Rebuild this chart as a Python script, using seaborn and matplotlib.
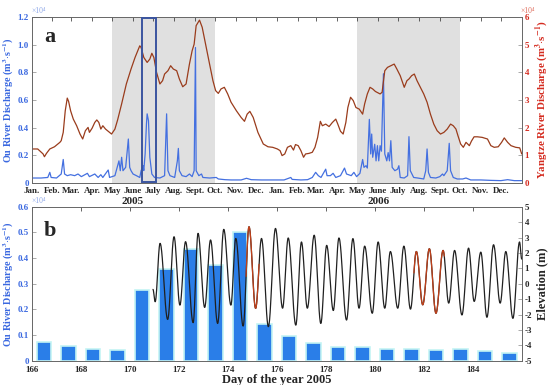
import numpy as np
import pandas as pd
import matplotlib
matplotlib.use("Agg")
import matplotlib.pyplot as plt
from matplotlib.patches import Rectangle
import seaborn as sns

# --- data (days since 2005-01-01, discharge in 1e4 m3/s) ---
yz_day = [0, 9, 17, 19, 22, 27, 34, 42, 44, 47, 50, 53, 55, 58, 62, 67, 72, 76, 80, 84,
          86, 90, 94, 97, 100, 103, 106, 110, 114, 119, 124, 128, 134, 141, 148, 154, 161,
          163, 167, 172, 176, 179, 182, 186, 191, 195, 198, 203, 207, 211, 216, 220, 225,
          230, 235, 239, 242, 245, 250, 254, 259, 265, 270, 274, 278, 282, 287, 292, 297,
          305, 312, 317, 321, 325, 330, 337, 345, 352, 359, 366, 370, 373, 377, 381, 386,
          390, 393, 397, 401, 405, 408, 413, 418, 422, 426, 430, 433, 438, 443, 448, 453,
          456, 460, 464, 468, 471, 475, 479, 483, 488, 493, 496, 500, 504, 508, 512, 519,
          522, 526, 530, 535, 540, 544, 549, 555, 559, 562, 566, 570, 574, 579, 584, 589,
          594, 599, 604, 609, 614, 619, 624, 628, 632, 635, 639, 643, 647, 652, 655, 659,
          664, 671, 679, 684, 689, 695, 700, 704, 709, 714, 721, 727, 730]
yz_val = [1.23, 1.23, 1.05, 0.95, 1.07, 1.23, 1.31, 1.47, 1.53, 1.83, 2.61, 3.07, 2.95,
          2.61, 2.31, 2.07, 1.77, 1.59, 1.89, 2.01, 1.83, 1.98, 2.19, 2.28, 2.19, 1.95, 2.07,
          1.95, 1.87, 1.77, 1.95, 2.28, 2.86, 3.58, 4.12, 4.54, 4.96, 4.90, 4.54, 4.36, 4.48,
          4.69, 4.54, 4.00, 3.58, 3.70, 3.94, 4.06, 4.24, 4.12, 4.06, 3.76, 3.48, 3.58, 4.30,
          4.78, 5.02, 5.69, 5.89, 5.63, 5.02, 4.30, 3.70, 3.34, 3.24, 3.40, 3.46, 3.22, 2.92,
          2.61, 2.37, 2.23, 2.49, 2.59, 2.37, 1.83, 1.41, 1.31, 1.29, 1.23, 1.17, 0.99, 1.05,
          1.29, 1.35, 1.19, 1.39, 1.35, 1.17, 0.93, 1.05, 1.07, 1.11, 1.29, 1.65, 2.23, 2.07,
          2.13, 2.04, 2.19, 2.31, 2.13, 1.87, 1.77, 2.19, 2.73, 3.10, 2.98, 2.73, 2.67, 2.49,
          2.86, 3.22, 3.46, 3.40, 3.31, 3.22, 3.28, 4.06, 4.18, 4.24, 4.30, 4.12, 3.88, 3.46,
          3.70, 3.76, 3.88, 3.94, 3.70, 3.46, 3.22, 2.92, 2.49, 2.13, 1.89, 1.77, 1.83, 1.95,
          2.13, 2.07, 1.95, 1.71, 1.41, 1.29, 1.47, 1.35, 1.51, 1.67, 1.67, 1.65, 1.59, 1.35,
          1.29, 1.31, 1.47, 1.63, 1.47, 1.35, 1.29, 1.27, 1.05]

ou_day = [0, 14, 24, 27, 29, 37, 44, 47, 49, 53, 58, 64, 69, 74, 83, 86, 94, 99, 103, 106,
          114, 116, 124, 130, 132, 134, 136, 140, 144, 146, 148, 151, 156, 161, 163, 166, 167,
          169, 171, 172, 174, 176, 179, 183, 191, 198, 201, 203, 206, 213, 217, 218.5, 220,
          224, 230, 235, 239, 242, 244, 245, 249, 253, 255, 265, 275, 278, 288, 297, 312, 320,
          327, 342, 362, 376, 386, 388, 401, 411, 418, 423, 427, 431, 438, 440, 445, 449, 453,
          460, 466, 469, 476, 480, 484, 489, 493, 495, 498, 500, 503, 505, 506.5, 508, 511,
          513, 515, 517, 519, 521, 524, 526, 529, 531, 533, 535, 537, 541, 545, 547, 549, 555,
          560, 562, 564, 569, 575, 584, 587, 589, 591, 594, 602, 608, 612, 614, 619, 622, 624,
          628, 634, 642, 647, 654, 669, 684, 699, 709, 719, 730]
ou_val = [0.036, 0.036, 0.040, 0.077, 0.040, 0.036, 0.065, 0.170, 0.065, 0.053, 0.060,
          0.053, 0.065, 0.046, 0.070, 0.046, 0.065, 0.040, 0.060, 0.040, 0.094, 0.040, 0.053,
          0.160, 0.089, 0.186, 0.089, 0.113, 0.318, 0.113, 0.089, 0.065, 0.053, 0.040, 0.089,
          0.125, 0.090, 0.210, 0.430, 0.500, 0.450, 0.186, 0.065, 0.040, 0.036, 0.053, 0.500,
          0.089, 0.053, 0.040, 0.160, 0.250, 0.089, 0.053, 0.046, 0.065, 0.046, 0.089, 0.980,
          0.089, 0.053, 0.065, 0.040, 0.036, 0.040, 0.029, 0.024, 0.022, 0.022, 0.034, 0.024,
          0.022, 0.022, 0.022, 0.040, 0.026, 0.022, 0.024, 0.040, 0.077, 0.053, 0.040, 0.100,
          0.053, 0.053, 0.070, 0.040, 0.053, 0.108, 0.065, 0.053, 0.077, 0.046, 0.070, 0.170,
          0.113, 0.125, 0.108, 0.460, 0.210, 0.354, 0.186, 0.280, 0.160, 0.270, 0.160, 0.270,
          0.230, 0.790, 0.210, 0.160, 0.220, 0.160, 0.306, 0.113, 0.089, 0.100, 0.125, 0.040,
          0.036, 0.053, 0.335, 0.089, 0.040, 0.036, 0.029, 0.089, 0.246, 0.077, 0.040, 0.036,
          0.046, 0.065, 0.053, 0.089, 0.287, 0.089, 0.040, 0.029, 0.029, 0.036, 0.022, 0.022,
          0.019, 0.017, 0.024, 0.017, 0.017]

month_labels = ["Jan.", "Feb.", "Mar.", "Apr.", "May", "June", "July", "Aug.", "Sept.",
                "Oct.", "Nov.", "Dec."] * 2
flood_seasons = [("2005-05-01", "2005-10-01"), ("2006-05-01", "2006-10-01")]
zoom_window = (165, 185)  # days since Jan 1 (DOY 166-186)

# panel b: daily Ou discharge (1e4 m3/s) and tidal extrema (m)
bar_doy = [166.5, 167.5, 168.5, 169.5, 170.5, 171.5, 172.5, 173.5, 174.5, 175.5,
           176.5, 177.5, 178.5, 179.5, 180.5, 181.5, 182.5, 183.5, 184.5, 185.5]
bar_q = [0.074, 0.057, 0.047, 0.040, 0.275, 0.356, 0.436, 0.374, 0.501, 0.143,
         0.096, 0.068, 0.055, 0.052, 0.047, 0.044, 0.043, 0.044, 0.038, 0.031]

tide_t = [170.95, 171.04, 171.24, 171.55, 171.81, 172.05, 172.28, 172.59, 172.79, 173.06,
          173.30, 173.59, 173.84, 174.13, 174.33, 174.63, 174.87, 175.14, 175.38, 175.66,
          175.95, 176.24, 176.47, 176.78, 177.01, 177.25, 177.53, 177.80, 178.04, 178.31,
          178.54, 178.85, 179.11, 179.36, 179.59, 179.90, 180.14, 180.41, 180.64, 180.94,
          181.19, 181.46, 181.70, 181.96, 182.23, 182.50, 182.79, 183.02, 183.26, 183.56,
          183.83, 184.06, 184.33, 184.58, 184.85, 185.12, 185.35, 185.64, 185.91, 186.0]
tide_h = [-0.37, -1.17, 2.62, -2.32, 3.05, -1.39, 2.73, -2.53, 3.27, -1.54,
          2.84, -2.58, 3.53, -1.39, 2.94, -2.75, 3.70, -1.60, 2.94, -2.79,
          3.59, -1.59, 2.97, -2.69, 2.71, -1.59, 3.15, -2.58, 2.49, -1.74,
          2.97, -2.36, 2.93, -1.59, 2.44, -1.92, 2.71, -1.59, 2.09, -1.59,
          2.44, -1.65, 2.09, -1.37, 2.27, -1.92, 2.16, -1.26, 2.16, -2.03,
          2.31, -1.15, 2.05, -2.18, 2.53, -1.26, 2.09, -2.25, 2.71, 1.60]
red_spans = [(174.75, 175.28), (181.60, 182.84)]

# colours
BLUE_TXT = "#3a68e0"
BLUE_LINE = "#4470e0"
RED_TXT = "#d42a1e"
YZ_LINE = "#9a3c1c"
BAR_C = "#2a7ee8"

UNIT = r" (m$^{\mathbf{3}}$$\cdot$s$^{\mathbf{-1}}$)"


def tide_curve(t_ext, h_ext, n=24):
    # smooth half-cosine between successive high/low waters
    ts, hs = [], []
    for i in range(len(t_ext) - 1):
        s = np.linspace(0, 1, n, endpoint=False)
        ts.append(t_ext[i] + (t_ext[i + 1] - t_ext[i]) * s)
        hs.append(h_ext[i] + (h_ext[i + 1] - h_ext[i]) * (1 - np.cos(np.pi * s)) / 2)
    ts.append([t_ext[-1]])
    hs.append([h_ext[-1]])
    return np.concatenate(ts), np.concatenate(hs)


sns.set_theme(style="white")
plt.rcParams['font.family'] = ['Liberation Serif', 'DejaVu Serif']
plt.rcParams['mathtext.fontset'] = 'stix'
plt.rcParams['axes.unicode_minus'] = False
plt.rcParams['axes.linewidth'] = 0.6

fig = plt.figure(figsize=(5.5, 3.85), dpi=100)
ax1 = fig.add_axes([0.0576, 0.5247, 0.891, 0.431])
ax2 = ax1.twinx()
ax3 = fig.add_axes([0.0576, 0.0631, 0.891, 0.400])
ax4 = ax3.twinx()

t0 = pd.Timestamp("2005-01-01")
month_pos = [(d - t0).days for d in pd.date_range("2005-01-01", "2006-12-01", freq="MS")]

# --- panel a ---
for a, b in flood_seasons:
    ax1.axvspan((pd.Timestamp(a) - t0).days, (pd.Timestamp(b) - t0).days,
                color="#e0e0e0", lw=0, zorder=0)
sns.lineplot(x=ou_day, y=ou_val, ax=ax1, color=BLUE_LINE, lw=0.9, zorder=3)
sns.lineplot(x=yz_day, y=yz_val, ax=ax2, color=YZ_LINE, lw=0.9)
ax2.add_patch(Rectangle((zoom_window[0], 0.02), zoom_window[1] - zoom_window[0], 5.96,
                        fill=False, ec="#3b55a0", lw=1.4, zorder=5))

ax1.set_xlim(0, 730)
ax1.set_ylim(0, 1.2)
ax2.set_ylim(0, 6)
ax1.set_xticks(month_pos)
ax1.set_xticklabels(month_labels)
ax1.set_yticks(np.arange(0, 1.21, 0.2))
ax1.set_yticklabels(["0"] + [f"{v:.1f}" for v in np.arange(0.2, 1.21, 0.2)])
ax2.set_yticks(range(0, 7))
ax1.tick_params(axis="x", direction="in", top=True, length=3, width=0.5, pad=3,
                labelsize=6.5)
ax1.tick_params(axis="y", direction="in", length=3, width=0.5, pad=2, labelsize=6.5,
                labelcolor=BLUE_TXT, color="#888888")
ax2.tick_params(axis="y", direction="in", length=3, width=0.5, pad=2, labelsize=6.5,
                labelcolor=RED_TXT, color="#888888")
for lab in ax1.get_xticklabels() + ax1.get_yticklabels() + ax2.get_yticklabels():
    lab.set_fontweight("bold")
ax1.set_xlabel("")
ax1.set_ylabel("Ou River Discharge" + UNIT, color=BLUE_TXT, fontsize=7.3,
               fontweight="bold")
ax1.yaxis.set_label_coords(-0.031, 0.5)
ax2.set_ylabel("Yangtze River Discharge" + UNIT, color=RED_TXT, fontsize=7.8,
               fontweight="bold", labelpad=3)
ax1.text(0.0, 1.01, "×10⁴", transform=ax1.transAxes, color="#8fa8e8", fontsize=5.5,
         ha="left", va="bottom")
ax2.text(0.998, 1.01, "×10⁴", transform=ax2.transAxes, color="#e07060", fontsize=5.5,
         ha="left", va="bottom")
ax1.text(0.025, 0.88, "a", transform=ax1.transAxes, fontsize=16, fontweight="bold",
         va="center")
for yr, pos in [("2005", 151), ("2006", 516)]:
    ax1.text(pos, -0.113, yr, transform=ax1.get_xaxis_transform(), ha="center",
             va="center", fontsize=8, fontweight="bold")

# --- panel b ---
sns.barplot(x=bar_doy, y=bar_q, ax=ax3, native_scale=True, width=0.6, color=BAR_C,
            saturation=1, edgecolor="#c4f4f4", linewidth=1.2, zorder=2)
tt, hh = tide_curve(tide_t, tide_h)
sns.lineplot(x=tt, y=hh, ax=ax4, color="#202020", lw=0.9, sort=False)
for a, b in red_spans:
    m = (tt >= a) & (tt <= b)
    sns.lineplot(x=tt[m], y=hh[m], ax=ax4, color="#c0401a", lw=0.9, sort=False)

ax3.set_xlim(166, 186)
ax3.set_ylim(0, 0.6)
ax4.set_ylim(-5, 5)
ax3.set_xticks(range(166, 185, 2))
ax3.set_yticks(np.arange(0, 0.61, 0.1))
ax3.set_yticklabels(["0"] + [f"{v:.1f}" for v in np.arange(0.1, 0.61, 0.1)])
ax4.set_yticks(range(-5, 6))
ax3.tick_params(axis="x", direction="in", top=True, length=3, width=0.5, pad=4,
                labelsize=6.5)
ax3.tick_params(axis="y", direction="in", length=3, width=0.5, pad=2, labelsize=6.5,
                labelcolor=BLUE_TXT, color="#888888")
ax4.tick_params(axis="y", direction="in", length=3, width=0.5, pad=2, labelsize=6.5,
                color="#888888")
for lab in ax3.get_xticklabels() + ax3.get_yticklabels() + ax4.get_yticklabels():
    lab.set_fontweight("bold")
ax3.set_xlabel("Day of the year 2005", fontsize=9, fontweight="bold", labelpad=0)
ax3.set_ylabel("Ou River Discharge" + UNIT, color=BLUE_TXT, fontsize=7.3,
               fontweight="bold")
ax3.yaxis.set_label_coords(-0.031, 0.5)
ax4.set_ylabel("Elevation (m)", fontsize=9, fontweight="bold", labelpad=3)
ax3.text(0.0, 1.01, "×10⁴", transform=ax3.transAxes, color="#8fa8e8", fontsize=5.5,
         ha="left", va="bottom")
ax3.text(0.025, 0.84, "b", transform=ax3.transAxes, fontsize=16, fontweight="bold",
         va="center")

for ax in (ax1, ax2, ax3, ax4):
    for sp in ax.spines.values():
        sp.set_color("#666666")
        sp.set_linewidth(0.6)

fig.savefig("out.png", dpi=100)
